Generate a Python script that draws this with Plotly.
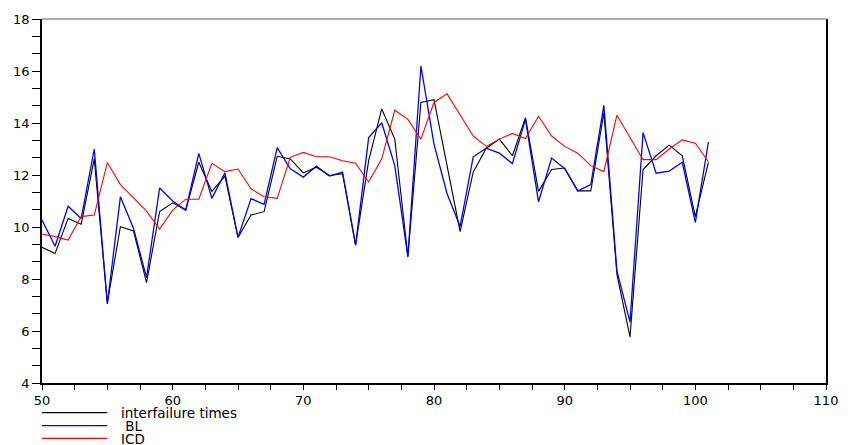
import plotly.graph_objects as go

# ---- data ----
x_vals = list(range(50, 102))

interfailure_times = [
    9.22, 8.98, 10.33, 10.11, 12.62, 7.08, 10.01, 9.85, 7.86, 10.59,
    10.93, 10.65, 12.49, 11.37, 11.96, 9.60, 10.46, 10.59, 12.72, 12.62,
    12.08, 12.30, 11.98, 12.05, 9.30, 12.55, 14.54, 13.38, 8.88, 14.79,
    14.90, 12.30, 9.82, 12.11, 13.03, 13.38, 12.74, 14.20, 11.37, 12.21,
    12.27, 11.39, 11.39, 14.39, 8.18, 5.77, 12.21, 12.74, 13.15, 12.74,
    10.40, 12.49,
]

bl = [
    10.27, 9.26, 10.80, 10.33, 13.00, 7.04, 11.16, 9.95, 8.05, 11.50,
    11.00, 10.65, 12.83, 11.10, 12.08, 9.60, 11.09, 10.87, 13.05, 12.24,
    11.92, 12.34, 11.96, 12.11, 9.30, 13.44, 14.01, 12.36, 8.85, 16.19,
    13.19, 11.28, 10.02, 12.70, 13.03, 12.84, 12.44, 14.14, 10.97, 12.65,
    12.24, 11.39, 11.63, 14.68, 8.31, 6.34, 13.63, 12.07, 12.15, 12.49,
    10.18, 13.27,
]

icd = [
    9.73, 9.63, 9.50, 10.40, 10.46, 12.48, 11.63, 11.10, 10.61, 9.92,
    10.65, 11.07, 11.07, 12.45, 12.13, 12.23, 11.47, 11.16, 11.10, 12.68,
    12.87, 12.70, 12.70, 12.55, 12.45, 11.73, 12.62, 14.49, 14.14, 13.38,
    14.79, 15.12, 14.33, 13.50, 13.10, 13.38, 13.60, 13.40, 14.26, 13.50,
    13.10, 12.84, 12.36, 12.13, 14.30, 13.44, 12.59, 12.59, 13.00, 13.35,
    13.22, 12.51,
]

series_names = ["interfailure times", " BL", "ICD"]
series_colors = ["#000000", "#0000ff", "#ff0000"]
series_widths = [1.1, 1.3, 1.1]

x_ticks = [50, 60, 70, 80, 90, 100, 110]
y_ticks = [4, 6, 8, 10, 12, 14, 16, 18]

# ---- layout constants (pixels) ----
W, H = 850, 445
ML, MR, MT, MB = 42, 15, 15, 62
PW = W - ML - MR
PH = H - MT - MB
FONT = "DejaVu Sans, Liberation Sans, Arial, sans-serif"

fig = go.Figure()
for name, ys, col, lw in zip(series_names, [interfailure_times, bl, icd],
                             series_colors, series_widths):
    fig.add_trace(go.Scatter(x=x_vals, y=ys, mode="lines", name=name,
                             line=dict(color=col, width=lw), showlegend=False))

# manual legend below the plot
legend_rows_px = [413, 426, 439]
line_x0_px, line_x1_px, text_x_px = 42, 108, 121
shapes = []
annotations = []
for name, col, row in zip(series_names, series_colors, legend_rows_px):
    py = (MT + PH - row) / PH
    shapes.append(dict(type="line", xref="paper", yref="paper",
                       x0=(line_x0_px - ML) / PW, x1=(line_x1_px - ML) / PW,
                       y0=py, y1=py, line=dict(color=col, width=1.2)))
    label = ("&nbsp;" + name[1:]) if name.startswith(" ") else name
    annotations.append(dict(xref="paper", yref="paper",
                            x=(text_x_px - ML) / PW, y=py,
                            text=label, height=11, valign="middle",
                            borderpad=0,
                            showarrow=False, xanchor="left", yanchor="middle",
                            font=dict(family=FONT, size=13.5, color="#000")))

# grey top frame line
shapes.append(dict(type="line", xref="paper", yref="paper", x0=0, x1=1,
                   y0=1, y1=1, line=dict(color="#909090", width=1.5)))

fig.update_layout(
    width=W, height=H,
    margin=dict(l=ML, r=MR, t=MT, b=MB),
    paper_bgcolor="white", plot_bgcolor="white",
    showlegend=False,
    shapes=shapes, annotations=annotations,
    font=dict(family=FONT, size=13, color="#000"),
    xaxis=dict(range=[50, 110], tickvals=x_ticks, ticks="outside", ticklen=5,
               tickwidth=1, tickcolor="#000", showline=True, linecolor="#000",
               linewidth=1.5, showgrid=False, zeroline=False, mirror=False,
               minor=dict(dtick=2.5, tick0=50, ticks="outside", ticklen=5,
                          tickcolor="#000", showgrid=False),
               tickfont=dict(family=FONT, size=13)),
    yaxis=dict(range=[4, 18], tickvals=y_ticks, ticks="outside", ticklen=8,
               tickwidth=1, tickcolor="#000", showline=True, linecolor="#000",
               linewidth=1.5, showgrid=False, zeroline=False, mirror=True,
               minor=dict(dtick=2/3, tick0=4, ticks="outside", ticklen=8,
                          tickcolor="#000", showgrid=False),
               tickfont=dict(family=FONT, size=13)),
)

fig.write_html("out.html")
